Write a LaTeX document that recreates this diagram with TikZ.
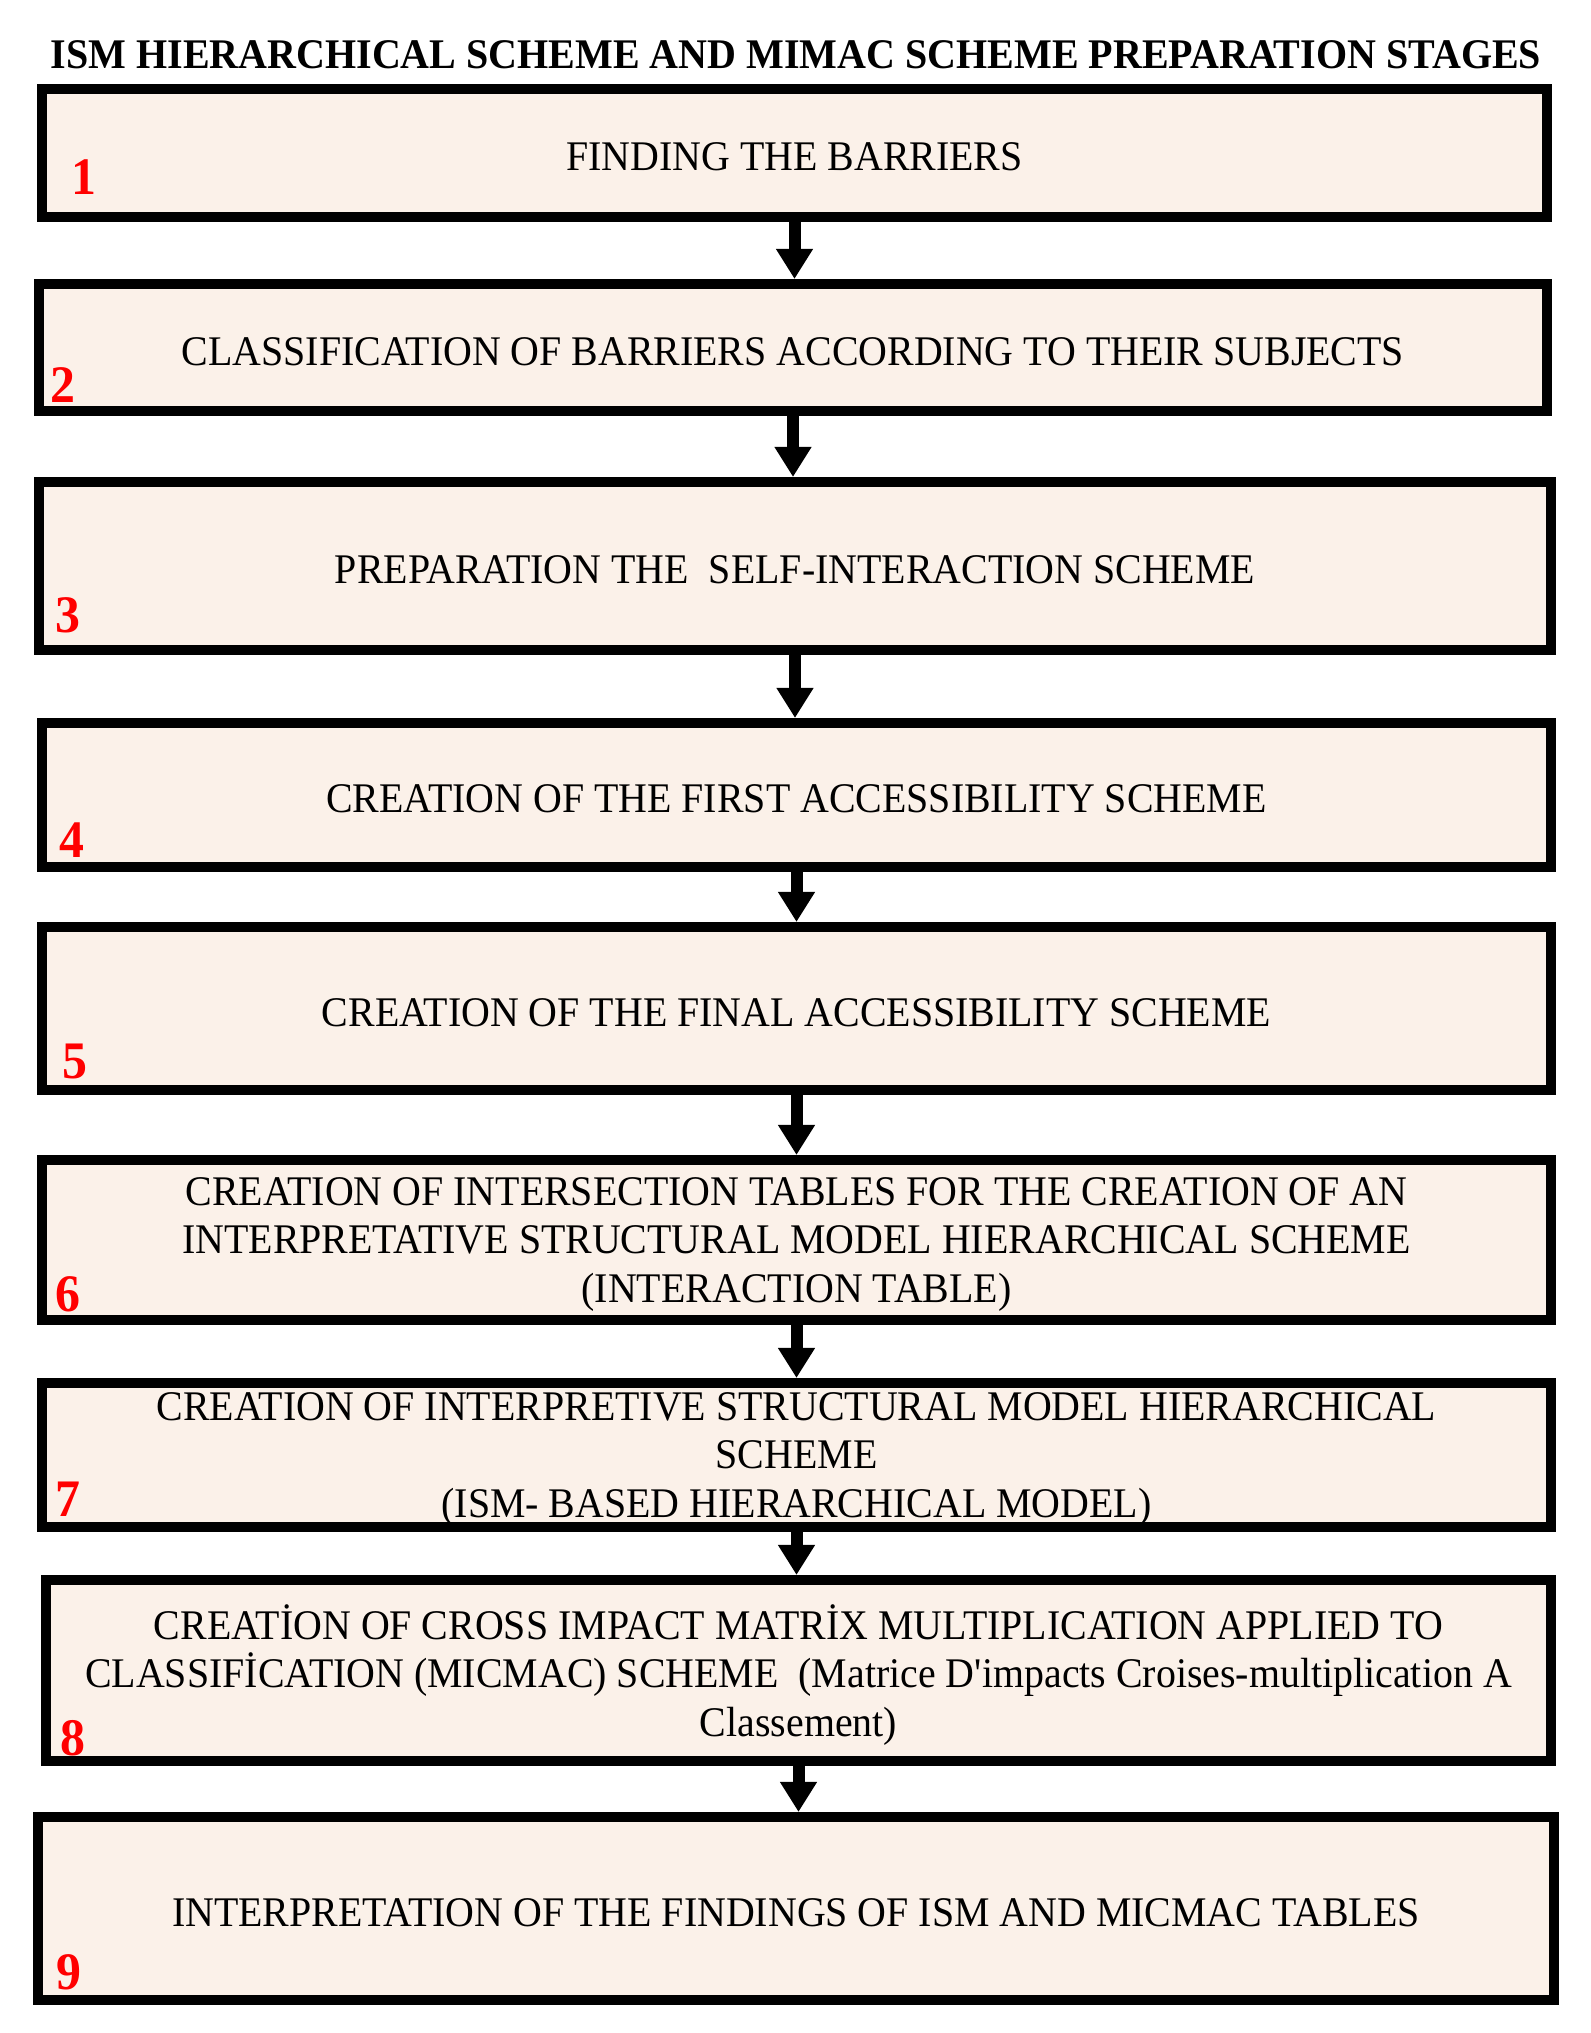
\documentclass[tikz,border=0pt]{standalone}
\usepackage{fontspec}
\setmainfont{Liberation Serif}
\newfontfamily\stagefont[FakeStretch=0.945]{Liberation Serif}
\newfontfamily\titlefont[FakeStretch=0.948]{Liberation Serif}
\usetikzlibrary{arrows.meta}
\definecolor{stagefill}{RGB}{251,241,233}
\definecolor{stagered}{RGB}{255,0,0}

\tikzset{
	stage/.style={draw=black, line width=1mm, fill=stagefill, rectangle, inner sep=0pt, align=center, text height=10pt, text depth=0pt, font=\stagefont\fontsize{12}{13.8}\selectfont},
	stagetall/.style={draw=black, line width=1mm, fill=stagefill, rectangle, inner sep=0pt, align=center, text depth=-1.8pt, font=\stagefont\fontsize{12}{13.8}\selectfont},
	stagenum/.style={anchor=base west, inner sep=0pt, text=stagered, font=\stagefont\fontsize{15}{15}\selectfont\bfseries},
	flow/.style={line width=1.2mm, -{Triangle[width=3.5mm,length=3mm]}}
}

\begin{document}
\begin{tikzpicture}[x=0.01cm, y=-0.01cm]
			%%%%% START %%%%%
			\useasboundingbox (0, 0) rectangle (1590, 2033);
			
			\node[anchor=base, inner sep=0pt, font=\titlefont\fontsize{12}{12}\selectfont\bfseries] (title) at (796, 68) {ISM HIERARCHICAL SCHEME AND MIMAC SCHEME PREPARATION STAGES};
			
			\node[stage, minimum width=150.5mm, minimum height=12.8mm] (s1) at (794.5, 153) {FINDING THE BARRIERS};
			\node[stage, minimum width=150.8mm, minimum height=12.7mm] (s2) at (793, 347.5) {CLASSIFICATION OF BARRIERS ACCORDING TO THEIR SUBJECTS};
			\node[stage, minimum width=151.2mm, minimum height=16.8mm] (s3) at (795, 566) {PREPARATION THE\ \ SELF-INTERACTION SCHEME};
			\node[stage, minimum width=150.9mm, minimum height=14.4mm] (s4) at (796.5, 795) {CREATION OF THE FIRST ACCESSIBILITY SCHEME};
			\node[stage, minimum width=150.9mm, minimum height=16.3mm] (s5) at (796.5, 1008.5) {CREATION OF THE FINAL ACCESSIBILITY SCHEME};
			\node[stagetall, minimum width=150.9mm, minimum height=16.0mm] (s6) at (796.5, 1240) {CREATION OF INTERSECTION TABLES FOR THE CREATION OF AN\\ INTERPRETATIVE STRUCTURAL MODEL HIERARCHICAL SCHEME\\ (INTERACTION TABLE)};
			\node[stagetall, minimum width=150.9mm, minimum height=14.4mm] (s7) at (796.5, 1455) {CREATION OF INTERPRETIVE STRUCTURAL MODEL HIERARCHICAL\\ SCHEME\\ (ISM- BASED HIERARCHICAL MODEL)};
			\node[stagetall, minimum width=150.5mm, minimum height=18.1mm] (s8) at (798.5, 1670.5) {CREATİON OF CROSS IMPACT MATRİX MULTIPLICATION APPLIED TO\\ CLASSIFİCATION (MICMAC) SCHEME\ \ (Matrice D\textquotesingle impacts Croises-multiplication A\\ Classement)};
			\node[stage, minimum width=151.6mm, minimum height=18.3mm] (s9) at (796, 1908.5) {INTERPRETATION OF THE FINDINGS OF ISM AND MICMAC TABLES};
			
			% red step numbers
			\node[stagenum] (n1) at ([xshift=3.4mm, yshift=2.8mm]s1.south west) {1};
			\node[stagenum] (n2) at ([xshift=1.6mm, yshift=1.4mm]s2.south west) {2};
			\node[stagenum] (n3) at ([xshift=2.1mm, yshift=2.3mm]s3.south west) {3};
			\node[stagenum] (n4) at ([xshift=2.2mm, yshift=1.5mm]s4.south west) {4};
			\node[stagenum] (n5) at ([xshift=2.5mm, yshift=1.7mm]s5.south west) {5};
			\node[stagenum] (n6) at ([xshift=1.8mm, yshift=1.4mm]s6.south west) {6};
			\node[stagenum] (n7) at ([xshift=1.8mm, yshift=1.6mm]s7.south west) {7};
			\node[stagenum] (n8) at ([xshift=1.9mm, yshift=1.1mm]s8.south west) {8};
			\node[stagenum] (n9) at ([xshift=2.3mm, yshift=1.6mm]s9.south west) {9};
			
			\draw[flow] (s1.south) -- (s1.south |- s2.north);
			\draw[flow] (s2.south) -- (s2.south |- s3.north);
			\draw[flow] (s3.south) -- (s3.south |- s4.north);
			\draw[flow] (s4.south) -- (s4.south |- s5.north);
			\draw[flow] (s5.south) -- (s5.south |- s6.north);
			\draw[flow] (s6.south) -- (s6.south |- s7.north);
			\draw[flow] (s7.south) -- (s7.south |- s8.north);
			\draw[flow] (s8.south) -- (s8.south |- s9.north);
			
			%%%%% END %%%%%
\end{tikzpicture}
\end{document}
